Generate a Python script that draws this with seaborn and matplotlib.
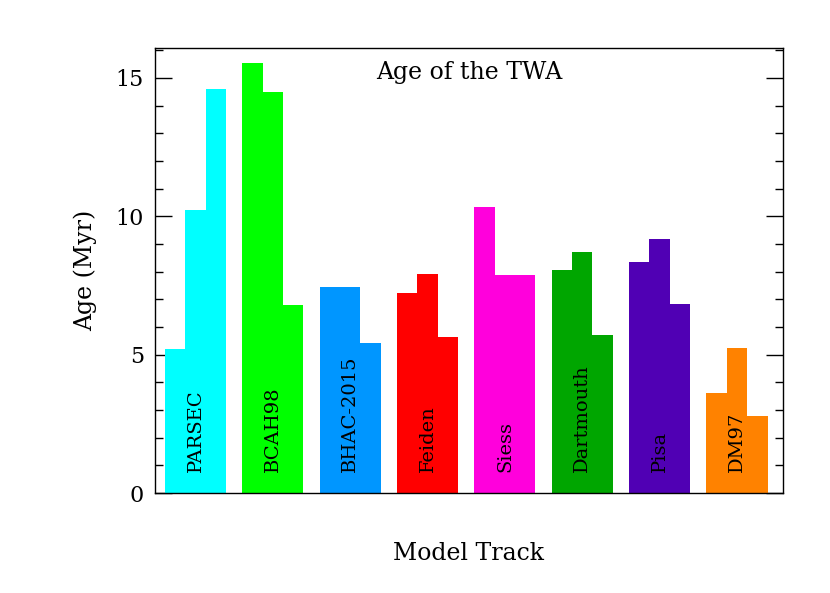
import pandas as pd
import matplotlib
matplotlib.use('Agg')
import matplotlib.pyplot as plt
import seaborn as sns
from matplotlib.ticker import MultipleLocator

# ages (Myr), three estimates per model track
models = ['PARSEC', 'BCAH98', 'BHAC-2015', 'Feiden', 'Siess', 'Dartmouth', 'Pisa', 'DM97']
age_1 = [5.2, 15.54, 7.44, 7.21, 10.32, 8.06, 8.35, 3.6]
age_2 = [10.23, 14.49, 7.44, 7.9, 7.88, 8.71, 9.18, 5.24]
age_3 = [14.6, 6.79, 5.42, 5.64, 7.88, 5.71, 6.83, 2.78]
colors = ['#00ffff', '#00ff00', '#0096ff', '#ff0000', '#ff00dc', '#00a600', '#5000b4', '#ff8200']

df = pd.DataFrame({
    'model': models * 3,
    'age': age_1 + age_2 + age_3,
    'slot': ['a'] * 8 + ['b'] * 8 + ['c'] * 8,
})

sns.set_style('ticks')
plt.rcParams['font.family'] = ['DejaVu Serif']
plt.rcParams['text.color'] = 'black'
plt.rcParams['axes.labelcolor'] = 'black'
plt.rcParams['ytick.color'] = 'black'

fig = plt.figure(figsize=(8.3, 5.93), dpi=100)
ax = fig.add_axes([0.1867, 0.1686, 0.7567, 0.7504])

sns.barplot(data=df, x='model', y='age', hue='slot', order=models,
            width=0.789, gap=0, dodge=True, legend=False, linewidth=0,
            saturation=1, ax=ax, errorbar=None)

# colour every bar by its model group
for p in ax.patches:
    cx = p.get_x() + p.get_width() / 2
    p.set_facecolor(colors[int(round(cx))])
    p.set_edgecolor('none')

ax.set_xlim(-0.524, 7.595)
ax.set_ylim(0, 16.08)
ax.set_xticks([])
ax.yaxis.set_major_locator(MultipleLocator(5))
ax.yaxis.set_minor_locator(MultipleLocator(1))
ax.tick_params(axis='y', which='major', direction='in', length=12, width=1,
               left=True, right=True, labelsize=16, pad=8, colors='black')
ax.tick_params(axis='y', which='minor', direction='in', length=6, width=1,
               left=True, right=True, colors='black')
for s in ax.spines.values():
    s.set_visible(True)
    s.set_linewidth(1)
    s.set_color('black')

for i, m in enumerate(models):
    ax.text(i, 0.76, m, rotation=90, ha='center', va='bottom', fontsize=14,
            color='black')

ax.text(0.5, 0.945, 'Age of the TWA', transform=ax.transAxes, ha='center',
        va='center', fontsize=17, color='black')
ax.set_xlabel('Model Track', fontsize=17, labelpad=35, color='black')
ax.set_ylabel('Age (Myr)', fontsize=17, labelpad=13, color='black')

fig.savefig('out.png', dpi=100)
